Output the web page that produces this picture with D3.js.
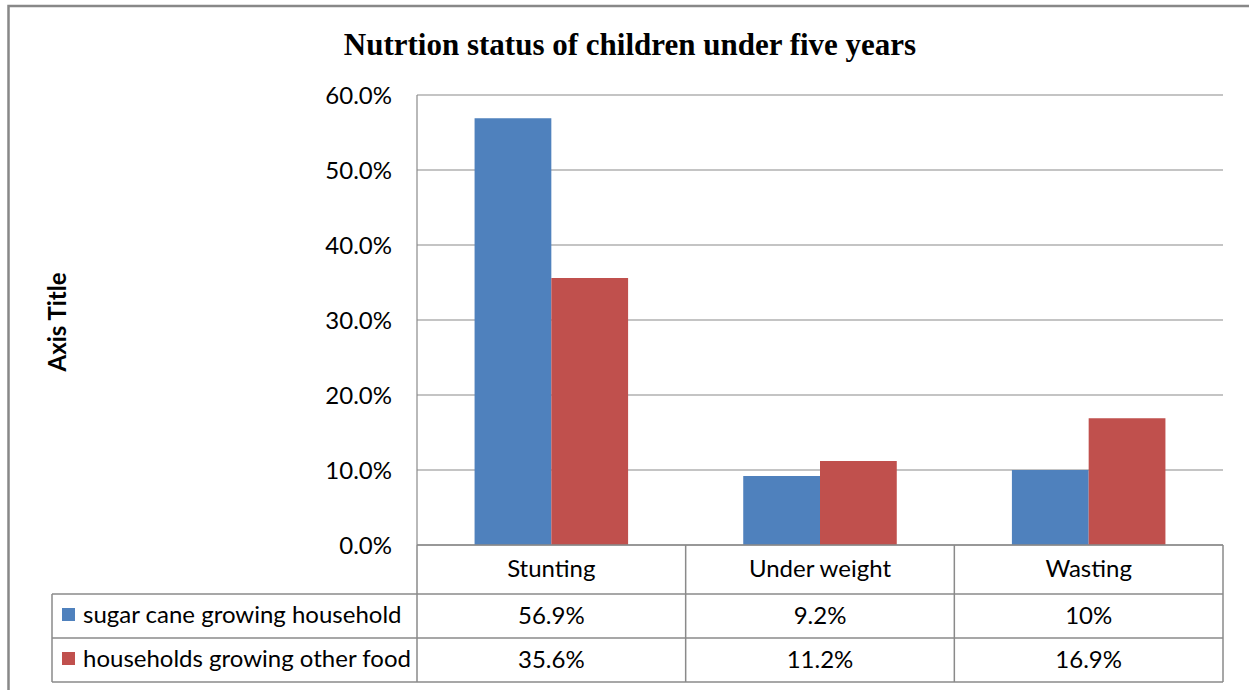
<!DOCTYPE html>
<html>
<head>
<meta charset="utf-8">
<script src="https://cdn.jsdelivr.net/npm/d3@7"></script>
<style>
	body { margin: 0; background: #fff; }
	svg text { fill: #000; }
</style>
</head>
<body>
<div id="graph"></div>
<script>
var categories = ["Stunting", "Under weight", "Wasting"],
	seriesNames = ["sugar cane growing household", "households growing other food"],
	sugarCane = [56.9, 9.2, 10],
	otherFood = [35.6, 11.2, 16.9],
	sugarCaneLabels = ["56.9%", "9.2%", "10%"],
	otherFoodLabels = ["35.6%", "11.2%", "16.9%"],
	yTicks = [0, 10, 20, 30, 40, 50, 60];

var series = [
	{name: seriesNames[0], values: sugarCane, labels: sugarCaneLabels, color: "#4F81BD"},
	{name: seriesNames[1], values: otherFood, labels: otherFoodLabels, color: "#C0504D"}
];

var	SVGwidth = 1249,
	SVGheight = 690,
	plot = {left: 417, right: 1223, top: 95, bottom: 545},
	rowH = [49, 44, 44],
	tableLeft = 52,
	lineColor = "#8a8a8a",
	sans = "Lato, 'Open Sans', sans-serif";

var svg = d3.select('div#graph')
				.append('svg')
				.attr('width', SVGwidth)
				.attr('height', SVGheight);

// chart frame
svg.append("rect")
	.attr("x", 8.5)
	.attr("y", 6)
	.attr("width", 1300)
	.attr("height", 760)
	.attr("fill", "#fff")
	.attr("stroke", "#888")
	.attr("stroke-width", 2.5);

svg.append("text")
	.attr("x", 630)
	.attr("y", 55)
	.attr("text-anchor", "middle")
	.style("font-family", "'Liberation Serif', 'Times New Roman', serif")
	.style("font-weight", "bold")
	.style("font-size", "31px")
	.text("Nutrtion status of children under five years");

var x = d3.scaleBand()
				.domain(categories)
				.range([plot.left, plot.right])
				.paddingInner(0)
				.paddingOuter(0),
	xs = d3.scaleBand()
				.domain(d3.range(series.length))
				.range([0, x.bandwidth()])
				.paddingOuter(0.75)
				.paddingInner(0),
	y = d3.scaleLinear()
				.domain([0, 60])
				.range([plot.bottom, plot.top]);

// gridlines
svg.append("g").attr("class", "grid")
	.selectAll("line")
	.data(yTicks).enter()
	.append("line")
	.attr("x1", plot.left)
	.attr("x2", plot.right)
	.attr("y1", function(d){ return y(d); })
	.attr("y2", function(d){ return y(d); })
	.attr("stroke", lineColor)
	.attr("stroke-width", 1.2);

svg.append("line")
	.attr("x1", plot.left).attr("x2", plot.left)
	.attr("y1", plot.top).attr("y2", plot.bottom)
	.attr("stroke", lineColor)
	.attr("stroke-width", 1.2);

// y axis labels
var yAxis = d3.axisLeft(y)
				.tickValues(yTicks)
				.tickSize(0)
				.tickPadding(25)
				.tickFormat(function(d){ return d3.format(".1f")(d) + "%"; });

var yg = svg.append("g")
	.attr("transform", "translate(" + plot.left + ",0)")
	.call(yAxis);
yg.select(".domain").remove();
yg.selectAll("text")
	.style("font-family", sans)
	.style("font-size", "24px")
	.attr("fill", "#000")
	.attr("dy", "0.35em");

svg.append("text")
	.attr("transform", "translate(66,322) rotate(-90)")
	.attr("text-anchor", "middle")
	.style("font-family", sans)
	.style("font-weight", "bold")
	.style("font-size", "24px")
	.text("Axis Title");

// bars
var groups = svg.append("g").attr("class", "bars")
	.selectAll("g")
	.data(series).enter()
	.append("g")
	.attr("fill", function(d){ return d.color; });

groups.selectAll("rect")
	.data(function(s, i){ return s.values.map(function(v, j){ return {cat: categories[j], value: v, idx: i}; }); })
	.enter()
	.append("rect")
	.attr("x", function(d){ return x(d.cat) + xs(d.idx); })
	.attr("y", function(d){ return y(d.value); })
	.attr("width", xs.bandwidth())
	.attr("height", function(d){ return y(0) - y(d.value); });

// data table
var table = svg.append("g").attr("class", "data-table"),
	rowTop = [plot.bottom, plot.bottom + rowH[0], plot.bottom + rowH[0] + rowH[1]],
	tableBottom = rowTop[2] + rowH[2];

table.append("line")
	.attr("x1", plot.left).attr("x2", plot.right)
	.attr("y1", plot.bottom).attr("y2", plot.bottom);
table.selectAll("line.row")
	.data([rowTop[1], rowTop[2], tableBottom]).enter()
	.append("line")
	.attr("class", "row")
	.attr("x1", tableLeft).attr("x2", plot.right)
	.attr("y1", function(d){ return d; }).attr("y2", function(d){ return d; });
table.append("line")
	.attr("x1", tableLeft).attr("x2", tableLeft)
	.attr("y1", rowTop[1]).attr("y2", tableBottom);
table.selectAll("line.col")
	.data(categories.map(function(c){ return x(c); }).concat([plot.right])).enter()
	.append("line")
	.attr("class", "col")
	.attr("x1", function(d){ return d; }).attr("x2", function(d){ return d; })
	.attr("y1", plot.bottom).attr("y2", tableBottom);
table.selectAll("line")
	.attr("stroke", lineColor)
	.attr("stroke-width", 1.5);

table.selectAll("text.cat")
	.data(categories).enter()
	.append("text")
	.attr("class", "cat")
	.attr("x", function(d){ return x(d) + x.bandwidth() / 2; })
	.attr("y", 577)
	.attr("text-anchor", "middle")
	.style("font-family", sans)
	.style("font-size", "24px")
	.text(function(d){ return d; });

var rows = table.selectAll("g.row")
	.data(series).enter()
	.append("g")
	.attr("class", "row")
	.attr("transform", function(d, i){ return "translate(0," + (rowTop[i + 1] + rowH[i + 1] / 2) + ")"; });

rows.append("rect")
	.attr("x", 62)
	.attr("y", -8)
	.attr("width", 13)
	.attr("height", 13)
	.attr("fill", function(d){ return d.color; });

rows.append("text")
	.attr("x", 83)
	.attr("dy", "0.3em")
	.style("font-family", sans)
	.style("font-size", "24px")
	.text(function(d){ return d.name; });

rows.selectAll("text.val")
	.data(function(d){ return d.labels; }).enter()
	.append("text")
	.attr("class", "val")
	.attr("x", function(d, j){ return x(categories[j]) + x.bandwidth() / 2; })
	.attr("dy", "0.35em")
	.attr("text-anchor", "middle")
	.style("font-family", sans)
	.style("font-size", "24px")
	.text(function(d){ return d; });
</script>
</body>
</html>
